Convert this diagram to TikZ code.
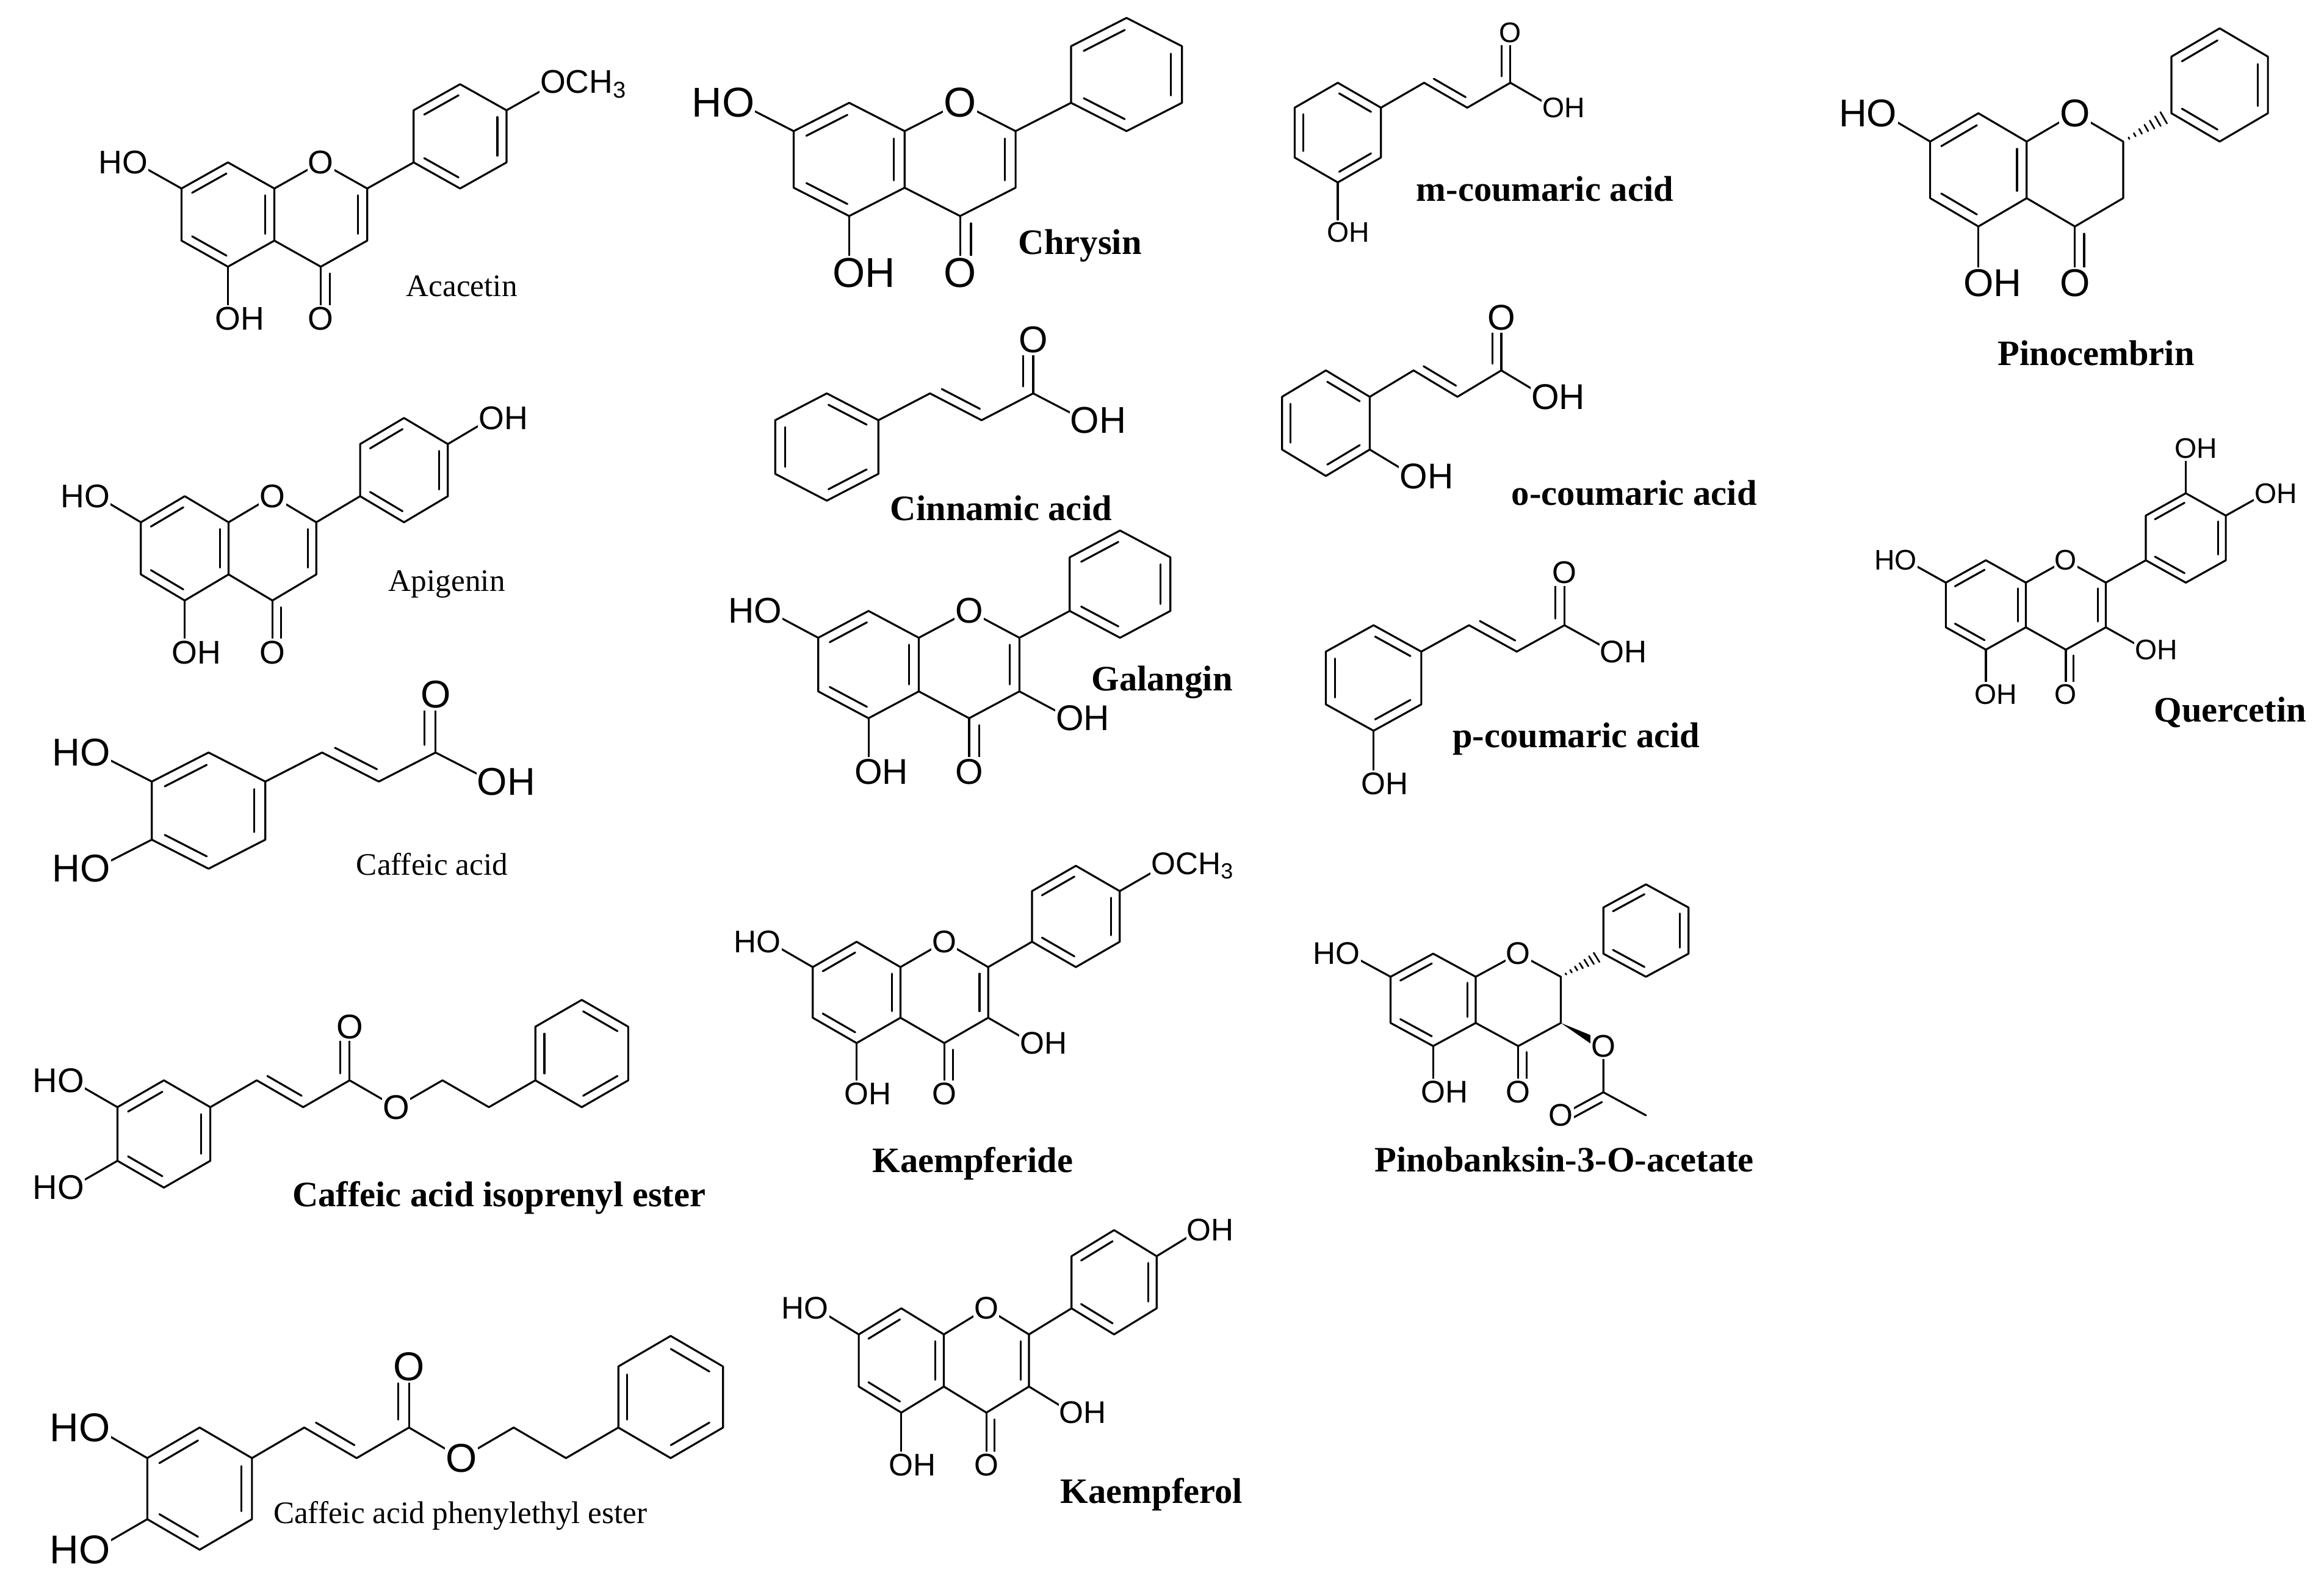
\documentclass[tikz,border=0pt]{standalone}
\usepackage{fontspec}
\setmainfont{Liberation Serif}
\setsansfont{Liberation Sans}
\usetikzlibrary{calc}
\def\fsz{20}
\newcommand\af{\fontsize{\fsz}{\fsz}\sffamily\selectfont}
\tikzset{
  al/.style={font=\af, fill=white, inner xsep=0.5pt, inner ysep=1.5pt},
  nmb/.style={font=\fontsize{24}{24}\bfseries\selectfont},
  nmr/.style={font=\fontsize{21}{21}\selectfont}
}
% double bond inner line on the left of u->v
\newcommand\dl[2]{\path ($(#1)!0.17!90:(#2)$) coordinate (dlA) ($(#2)!0.17!-90:(#1)$) coordinate (dlB);
  \draw ($(dlA)!0.13!(dlB)$) -- ($(dlB)!0.13!(dlA)$);}
% hexagon: centre, pattern
\newcommand\hexr[3]{\path (#1,#2) coordinate (rc) +(90:1) coordinate (r1) +(150:1) coordinate (r2)
  +(210:1) coordinate (r3) +(270:1) coordinate (r4) +(330:1) coordinate (r5) +(30:1) coordinate (r6);
  \draw (r1)--(r2)--(r3)--(r4)--(r5)--(r6)--cycle;
  \ifnum#3=1 \dl{r1}{r2}\dl{r3}{r4}\dl{r5}{r6}\else \dl{r2}{r3}\dl{r4}{r5}\dl{r6}{r1}\fi}
% labels
\newcommand\Oc[2]{\node[al] (#1) at (#2) {O};}
\newcommand\OH[2]{\node[al] (#1) at (#2) {O\rlap{H}};}
\newcommand\HO[2]{\node[al] (#1) at (#2) {\llap{H}O};}
\newcommand\OMe[2]{\node[al] (#1) at (#2) {O\rlap{CH\textsubscript{3}}};}
% chromone core: #1=1 C2=C3 double, 0 single
\newcommand\chrom[1]{\hexr{0}{0}{1}
  \path (1.732,1) coordinate (o1) (2.598,.5) coordinate (c2) (2.598,-.5) coordinate (c3) (1.732,-1) coordinate (c4)
   (-1.732,1) coordinate (p7) (0,-2) coordinate (p5) (1.732,-2) coordinate (p4) (3.464,1) coordinate (b0);
  \draw (r6)--(o1)--(c2)--(c3)--(c4)--(r5); \draw (r2)--(p7); \draw (r4)--(p5); \draw (c4)--(p4); \dl{c4}{p4}
  \ifnum#1=1 \dl{c3}{c2}\fi
  \Oc{o1n}{o1} \HO{o7n}{p7} \OH{o5n}{p5} \Oc{o4n}{p4}}
\newcommand\bring{\draw (c2)--(b0); \hexr{4.33}{1.5}{1}}
\newcommand\hashB{\foreach \t in {0.12,0.24,...,0.96} \draw[line width=1.1pt] ($(c2)!\t!(b0)$) +({-0.07*\t},{0.12*\t}) -- +({0.07*\t},{-0.12*\t});
  \hexr{4.33}{1.5}{1}}
\newcommand\threeOH{\draw (c3)--(3.464,-1); \OH{o3n}{3.464,-1}}
% cinnamic acid type
\newcommand\cinn[1]{\hexr{0}{0}{#1}
  \path (1.732,1) coordinate (v1) (2.598,.5) coordinate (v2) (3.464,1) coordinate (k) (3.464,2) coordinate (ko) (4.33,.5) coordinate (koh);
  \draw (r6)--(v1)--(v2)--(k)--(koh); \draw (k)--(ko); \dl{v1}{v2} \dl{k}{ko}
  \Oc{kon}{ko} \OH{kohn}{koh}}
% caffeate ester
\newcommand\cester{\hexr{0}{0}{1}
  \draw (r2)--(-1.732,1); \draw (r3)--(-1.732,-1);
  \path (1.732,1) coordinate (v1) (2.598,.5) coordinate (v2) (3.464,1) coordinate (k) (3.464,2) coordinate (ko) (4.33,.5) coordinate (oe)
   (5.196,1) coordinate (m1) (6.062,.5) coordinate (m2) (6.928,1) coordinate (m3);
  \draw (r6)--(v1)--(v2)--(k)--(oe)--(m1)--(m2)--(m3); \draw (k)--(ko); \dl{v1}{v2} \dl{k}{ko}
  \HO{e3}{-1.732,1} \HO{e4}{-1.732,-1} \Oc{eko}{ko} \Oc{eoe}{oe}
  \hexr{7.794}{1.5}{2}}
\begin{document}
\begin{tikzpicture}[x=1pt,y=1pt,line width=1.3pt,line cap=round,line join=round]
\useasboundingbox (0,0) rectangle (1560,1066);
\fill[white] (0,0) rectangle (1560,1066);
% Acacetin
\begin{scope}[shift={(153,922)},xscale=36,yscale=35]\def\fsz{22}
 \chrom{1}\bring \draw (r6)--+(30:1) coordinate (pp); \OMe{acm}{pp}
\end{scope}
\node[nmr] (nAca) at (310,874) {Acacetin};
% Chrysin
\begin{scope}[shift={(570,959)},xscale=43,yscale=38]\def\fsz{28}
 \chrom{1}\bring
\end{scope}
\node[nmb] (nChr) at (725,901) {Chrysin};
% Apigenin
\begin{scope}[shift={(124,698)},xscale=34,yscale=35]\def\fsz{22}
 \chrom{1}\bring \draw (r6)--+(30:1) coordinate (pp); \OH{apo}{pp}
\end{scope}
\node[nmr] (nApi) at (300,674) {Apigenin};
% Galangin
\begin{scope}[shift={(583,620)},xscale=39,yscale=36]\def\fsz{24}
 \chrom{1}\bring\threeOH
\end{scope}
\node[nmb] (nGal) at (780,608) {Galangin};
% Kaempferide
\begin{scope}[shift={(575,400)},xscale=34,yscale=34]\def\fsz{21}
 \chrom{1}\bring\threeOH \draw (r6)--+(30:1) coordinate (pp); \OMe{kdm}{pp}
\end{scope}
\node[nmb] (nKde) at (653,285) {Kaempferide};
% Kaempferol
\begin{scope}[shift={(605,153)},xscale=33,yscale=35]\def\fsz{21}
 \chrom{1}\bring\threeOH \draw (r6)--+(30:1) coordinate (pp); \OH{kpo}{pp}
\end{scope}
\node[nmb] (nKol) at (773,63) {Kaempferol};
% Quercetin
\begin{scope}[shift={(1333,660)},xscale=31,yscale=30]\def\fsz{19}
 \chrom{1}\bring\threeOH \draw (r6)--+(30:1) coordinate (pp); \draw (r1)--+(90:1) coordinate (pq);
 \OH{qo4}{pp} \OH{qo3}{pq}
\end{scope}
\node[nmb] (nQue) at (1497,588) {Quercetin};
% Pinocembrin
\begin{scope}[shift={(1328,952)},xscale=37.5,yscale=38]\def\fsz{26}
 \chrom{0}\hashB
\end{scope}
\node[nmb] (nPin) at (1407,829) {Pinocembrin};
% Pinobanksin-3-O-acetate
\begin{scope}[shift={(962,395)},xscale=33,yscale=31]\def\fsz{21}
 \chrom{0}\hashB
 \fill (2.598,-.5)--(3.336,-.822)--(3.246,-.978)--cycle;
 \path (3.464,-1) coordinate (oac) (3.464,-2) coordinate (cac) (2.598,-2.5) coordinate (oac2) (4.33,-2.5) coordinate (me);
 \draw (oac)--(cac)--(oac2); \draw (cac)--(me); \dl{cac}{oac2}
 \Oc{pbo}{oac} \Oc{pbo2}{oac2}
\end{scope}
\node[nmb] (nPba) at (1050,288) {Pinobanksin-3-O-acetate};
% Cinnamic acid
\begin{scope}[shift={(555,766)},xscale=40,yscale=36]\def\fsz{25}
 \cinn{2}
\end{scope}
\node[nmb] (nCin) at (672,725) {Cinnamic acid};
% m-coumaric acid
\begin{scope}[shift={(898,977)},xscale=33.5,yscale=33.5]\def\fsz{19}
 \cinn{2}\draw (r4)--(0,-2); \OH{mo}{0,-2}
\end{scope}
\node[nmb] (nMc) at (1037,939) {m-coumaric acid};
% o-coumaric acid
\begin{scope}[shift={(890,782)},xscale=34,yscale=35.5]\def\fsz{24}
 \cinn{2}\draw (r5)--(1.732,-1); \OH{oo}{1.732,-1}
\end{scope}
\node[nmb] (nOc) at (1097,735) {o-coumaric acid};
% p-coumaric acid
\begin{scope}[shift={(922,611)},xscale=37,yscale=35.5]\def\fsz{21}
 \cinn{2}\draw (r4)--(0,-2); \OH{po}{0,-2}
\end{scope}
\node[nmb] (nPc) at (1058,570) {p-coumaric acid};
% Caffeic acid
\begin{scope}[shift={(140,522)},xscale=44,yscale=39]\def\fsz{26}
 \cinn{1}\draw (r2)--(-1.732,1); \draw (r3)--(-1.732,-1); \HO{ca3}{-1.732,1} \HO{ca4}{-1.732,-1}
\end{scope}
\node[nmr] (nCaf) at (290,486) {Caffeic acid};
% Caffeic acid isoprenyl ester
\begin{scope}[shift={(110,305)},xscale=36,yscale=36]\def\fsz{23}
 \cester
\end{scope}
\node[nmb] (nCie) at (335,262) {Caffeic acid isoprenyl ester};
% CAPE
\begin{scope}[shift={(134,67)},xscale=40.7,yscale=41]\def\fsz{27}
 \cester
\end{scope}
\node[nmr] (nCape) at (309,49) {Caffeic acid phenylethyl ester};
\end{tikzpicture}
\end{document}
